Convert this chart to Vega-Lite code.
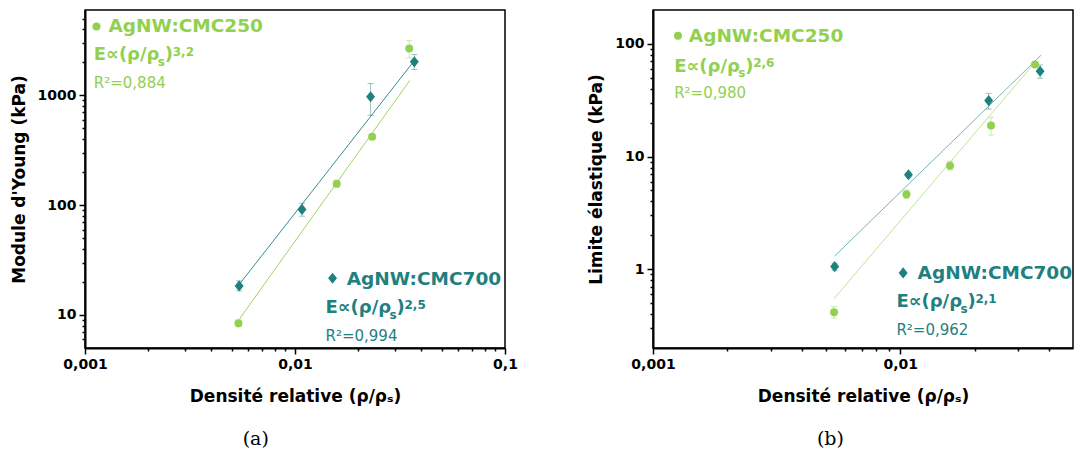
{
  "$schema": "https://vega.github.io/schema/vega-lite/v6.json",
  "background": "white",
  "padding": {"left": 9, "top": 9, "right": 0, "bottom": 0},
  "spacing": 68,
  "config": {
    "view": {"stroke": "black", "strokeWidth": 1.5},
    "axis": {"grid": false, "domainColor": "black", "domainWidth": 2, "tickColor": "black", "tickWidth": 1.5, "labelFont": "DejaVu Sans", "labelFontSize": 14, "labelFontWeight": "bold", "labelColor": "black", "labelPadding": 3, "titleFont": "DejaVu Sans", "titleFontSize": 17, "titleFontWeight": "bold", "titleColor": "black", "labelOverlap": false, "labelFlush": false},
    "axisX": {"titlePadding": 17},
    "axisY": {"titlePadding": 9},
    "text": {"font": "DejaVu Sans", "align": "left", "baseline": "alphabetic"},
    "title": {"font": "DejaVu Serif", "fontSize": 19, "fontWeight": "normal", "color": "black"}
  },
  "datasets": {
    "one": [{}],
    "pts": [
      {"panel": "a", "series": "CMC250", "x": 0.00538, "y": 8.4, "lo": 7.8, "hi": 9.0},
      {"panel": "a", "series": "CMC250", "x": 0.0158, "y": 157, "lo": 146, "hi": 169},
      {"panel": "a", "series": "CMC250", "x": 0.0233, "y": 421, "lo": 400, "hi": 443},
      {"panel": "a", "series": "CMC250", "x": 0.035, "y": 2675, "lo": 2200, "hi": 3160},
      {"panel": "a", "series": "CMC700", "x": 0.00542, "y": 18.4, "lo": 16.6, "hi": 20.4},
      {"panel": "a", "series": "CMC700", "x": 0.0108, "y": 91.5, "lo": 79.4, "hi": 104},
      {"panel": "a", "series": "CMC700", "x": 0.0229, "y": 972, "lo": 658, "hi": 1285},
      {"panel": "a", "series": "CMC700", "x": 0.037, "y": 2023, "lo": 1722, "hi": 2360},
      {"panel": "b", "series": "CMC250", "x": 0.0054, "y": 0.415, "lo": 0.369, "hi": 0.466},
      {"panel": "b", "series": "CMC250", "x": 0.0106, "y": 4.64, "lo": 4.25, "hi": 5.05},
      {"panel": "b", "series": "CMC250", "x": 0.0159, "y": 8.29, "lo": 7.6, "hi": 9.1},
      {"panel": "b", "series": "CMC250", "x": 0.0233, "y": 18.9, "lo": 15.5, "hi": 22.3},
      {"panel": "b", "series": "CMC250", "x": 0.0351, "y": 65.5, "lo": 62, "hi": 69},
      {"panel": "b", "series": "CMC700", "x": 0.00543, "y": 1.056, "lo": 0.98, "hi": 1.13},
      {"panel": "b", "series": "CMC700", "x": 0.0108, "y": 6.9, "lo": 6.6, "hi": 7.2},
      {"panel": "b", "series": "CMC700", "x": 0.0228, "y": 31.4, "lo": 26.4, "hi": 36.4},
      {"panel": "b", "series": "CMC700", "x": 0.0368, "y": 57.2, "lo": 49.5, "hi": 65}
    ],
    "fit": [
      {"panel": "a", "series": "CMC250", "x": 0.00544, "y": 9.2},
      {"panel": "a", "series": "CMC250", "x": 0.0352, "y": 1368},
      {"panel": "a", "series": "CMC700", "x": 0.00542, "y": 18.9},
      {"panel": "a", "series": "CMC700", "x": 0.0364, "y": 1995},
      {"panel": "b", "series": "CMC250", "x": 0.0054, "y": 0.548},
      {"panel": "b", "series": "CMC250", "x": 0.0351, "y": 68.5},
      {"panel": "b", "series": "CMC700", "x": 0.00543, "y": 1.31},
      {"panel": "b", "series": "CMC700", "x": 0.0372, "y": 79.7}
    ]
  },
  "hconcat": [
    {
      "width": 420, "height": 338,
      "title": {"text": "(a)", "orient": "bottom", "anchor": "middle", "frame": "bounds", "offset": 26, "dx": -8},
      "layer": [
        {
          "data": {"name": "fit"},
          "transform": [{"filter": "datum.panel == 'a'"}],
          "mark": {"type": "line", "strokeWidth": 1, "opacity": 0.9},
          "encoding": {
            "x": {"field": "x", "type": "quantitative", "scale": {"type": "log", "domain": [0.001, 0.1], "nice": false},
              "axis": {"title": "Densité relative (ρ/ρₛ)", "values": [0.001, 0.002, 0.003, 0.004, 0.005, 0.006, 0.007, 0.008, 0.009, 0.01, 0.02, 0.03, 0.04, 0.05, 0.06, 0.07, 0.08, 0.09, 0.1],
                "labelExpr": "abs(log(datum.value)/LN10 - round(log(datum.value)/LN10)) < 0.001 ? replace('' + datum.value, '.', ',') : ''",
                "tickSize": {"condition": {"test": "abs(log(datum.value)/LN10 - round(log(datum.value)/LN10)) < 0.001", "value": 6}, "value": 3}}},
            "y": {"field": "y", "type": "quantitative", "scale": {"type": "log", "domain": [5, 6000], "nice": false},
              "axis": {"title": "Module d'Young (kPa)", "values": [6, 7, 8, 9, 10, 20, 30, 40, 50, 60, 70, 80, 90, 100, 200, 300, 400, 500, 600, 700, 800, 900, 1000, 2000, 3000, 4000, 5000],
                "labelExpr": "abs(log(datum.value)/LN10 - round(log(datum.value)/LN10)) < 0.001 ? replace('' + datum.value, '.', ',') : ''",
                "tickSize": {"condition": {"test": "abs(log(datum.value)/LN10 - round(log(datum.value)/LN10)) < 0.001", "value": 6}, "value": 3}}},
            "color": {"field": "series", "type": "nominal", "scale": {"domain": ["CMC250", "CMC700"], "range": ["#92D050", "#1F8080"]}, "legend": null}
          }
        },
        {
          "data": {"name": "pts"},
          "transform": [{"filter": "datum.panel == 'a'"}],
          "mark": {"type": "rule", "strokeWidth": 1, "opacity": 0.45},
          "encoding": {
            "x": {"field": "x", "type": "quantitative"},
            "y": {"field": "lo", "type": "quantitative"},
            "y2": {"field": "hi"},
            "color": {"field": "series", "type": "nominal", "legend": null}
          }
        },
        {
          "data": {"name": "pts"},
          "transform": [{"filter": "datum.panel == 'a'"}],
          "mark": {"type": "tick", "orient": "horizontal", "size": 6, "thickness": 1, "opacity": 0.45},
          "encoding": {
            "x": {"field": "x", "type": "quantitative"},
            "y": {"field": "lo", "type": "quantitative"},
            "color": {"field": "series", "type": "nominal", "legend": null}
          }
        },
        {
          "data": {"name": "pts"},
          "transform": [{"filter": "datum.panel == 'a'"}],
          "mark": {"type": "tick", "orient": "horizontal", "size": 6, "thickness": 1, "opacity": 0.45},
          "encoding": {
            "x": {"field": "x", "type": "quantitative"},
            "y": {"field": "hi", "type": "quantitative"},
            "color": {"field": "series", "type": "nominal", "legend": null}
          }
        },
        {
          "data": {"name": "pts"},
          "transform": [{"filter": "datum.panel == 'a' && datum.series == 'CMC250'"}],
          "mark": {"type": "point", "shape": "circle", "filled": true, "opacity": 1, "size": 64},
          "encoding": {
            "x": {"field": "x", "type": "quantitative"},
            "y": {"field": "y", "type": "quantitative"},
            "color": {"field": "series", "type": "nominal", "legend": null}
          }
        },
        {
          "data": {"name": "pts"},
          "transform": [{"filter": "datum.panel == 'a' && datum.series == 'CMC700'"}],
          "mark": {"type": "point", "shape": "M-0.8,0L0,-1L0.8,0L0,1Z", "filled": true, "opacity": 1, "size": 125},
          "encoding": {
            "x": {"field": "x", "type": "quantitative"},
            "y": {"field": "y", "type": "quantitative"},
            "color": {"field": "series", "type": "nominal", "legend": null}
          }
        },
        {"data": {"name": "one"}, "mark": {"type": "point", "shape": "circle", "filled": true, "opacity": 1, "size": 64, "color": "#92D050"},
         "encoding": {"x": {"datum": 0.001134, "type": "quantitative"}, "y": {"datum": 4255, "type": "quantitative"}}},
        {"data": {"name": "one"}, "mark": {"type": "text", "text": "AgNW:CMC250", "fontSize": 18.5, "fontWeight": "bold", "color": "#92D050"},
         "encoding": {"x": {"datum": 0.001294, "type": "quantitative"}, "y": {"datum": 3750, "type": "quantitative"}}},
        {"data": {"name": "one"}, "mark": {"type": "text", "text": "E∝(ρ/ρ", "fontSize": 18, "fontWeight": "bold", "color": "#92D050"},
         "encoding": {"x": {"datum": 0.001101, "type": "quantitative"}, "y": {"datum": 2102, "type": "quantitative"}}},
        {"data": {"name": "one"}, "mark": {"type": "text", "text": "s", "fontSize": 12, "fontWeight": "bold", "color": "#92D050", "dx": 64, "dy": 5.5},
         "encoding": {"x": {"datum": 0.001101, "type": "quantitative"}, "y": {"datum": 2102, "type": "quantitative"}}},
        {"data": {"name": "one"}, "mark": {"type": "text", "text": ")", "fontSize": 18, "fontWeight": "bold", "color": "#92D050", "dx": 71},
         "encoding": {"x": {"datum": 0.001101, "type": "quantitative"}, "y": {"datum": 2102, "type": "quantitative"}}},
        {"data": {"name": "one"}, "mark": {"type": "text", "text": "3,2", "fontSize": 12, "fontWeight": "bold", "color": "#92D050", "dx": 79, "dy": -4.5},
         "encoding": {"x": {"datum": 0.001101, "type": "quantitative"}, "y": {"datum": 2102, "type": "quantitative"}}},
        {"data": {"name": "one"}, "mark": {"type": "text", "text": "R²=0,884", "fontSize": 15, "color": "#92D050"},
         "encoding": {"x": {"datum": 0.001101, "type": "quantitative"}, "y": {"datum": 1168, "type": "quantitative"}}},
        {"data": {"name": "one"}, "mark": {"type": "point", "shape": "M-0.8,0L0,-1L0.8,0L0,1Z", "filled": true, "opacity": 1, "size": 125, "color": "#1F8080"},
         "encoding": {"x": {"datum": 0.01509, "type": "quantitative"}, "y": {"datum": 21.6, "type": "quantitative"}}},
        {"data": {"name": "one"}, "mark": {"type": "text", "text": "AgNW:CMC700", "fontSize": 18.5, "fontWeight": "bold", "color": "#1F8080"},
         "encoding": {"x": {"datum": 0.01763, "type": "quantitative"}, "y": {"datum": 18.8, "type": "quantitative"}}},
        {"data": {"name": "one"}, "mark": {"type": "text", "text": "E∝(ρ/ρ", "fontSize": 18, "fontWeight": "bold", "color": "#1F8080"},
         "encoding": {"x": {"datum": 0.01397, "type": "quantitative"}, "y": {"datum": 10.4, "type": "quantitative"}}},
        {"data": {"name": "one"}, "mark": {"type": "text", "text": "s", "fontSize": 12, "fontWeight": "bold", "color": "#1F8080", "dx": 64, "dy": 5.5},
         "encoding": {"x": {"datum": 0.01397, "type": "quantitative"}, "y": {"datum": 10.4, "type": "quantitative"}}},
        {"data": {"name": "one"}, "mark": {"type": "text", "text": ")", "fontSize": 18, "fontWeight": "bold", "color": "#1F8080", "dx": 71},
         "encoding": {"x": {"datum": 0.01397, "type": "quantitative"}, "y": {"datum": 10.4, "type": "quantitative"}}},
        {"data": {"name": "one"}, "mark": {"type": "text", "text": "2,5", "fontSize": 12, "fontWeight": "bold", "color": "#1F8080", "dx": 79, "dy": -4.5},
         "encoding": {"x": {"datum": 0.01397, "type": "quantitative"}, "y": {"datum": 10.4, "type": "quantitative"}}},
        {"data": {"name": "one"}, "mark": {"type": "text", "text": "R²=0,994", "fontSize": 15, "color": "#1F8080"},
         "encoding": {"x": {"datum": 0.01397, "type": "quantitative"}, "y": {"datum": 5.83, "type": "quantitative"}}}
      ]
    },
    {
      "width": 420, "height": 338,
      "title": {"text": "(b)", "orient": "bottom", "anchor": "middle", "frame": "bounds", "offset": 26},
      "layer": [
        {
          "data": {"name": "fit"},
          "transform": [{"filter": "datum.panel == 'b'"}],
          "mark": {"type": "line", "strokeWidth": 1, "opacity": 0.6},
          "encoding": {
            "x": {"field": "x", "type": "quantitative", "scale": {"type": "log", "domain": [0.001, 0.05], "nice": false},
              "axis": {"title": "Densité relative (ρ/ρₛ)", "values": [0.001, 0.002, 0.003, 0.004, 0.005, 0.006, 0.007, 0.008, 0.009, 0.01, 0.02, 0.03, 0.04],
                "labelExpr": "abs(log(datum.value)/LN10 - round(log(datum.value)/LN10)) < 0.001 ? replace('' + datum.value, '.', ',') : ''",
                "tickSize": {"condition": {"test": "abs(log(datum.value)/LN10 - round(log(datum.value)/LN10)) < 0.001", "value": 6}, "value": 3}}},
            "y": {"field": "y", "type": "quantitative", "scale": {"type": "log", "domain": [0.2, 200], "nice": false},
              "axis": {"title": "Limite élastique (kPa)", "values": [0.3, 0.4, 0.5, 0.6, 0.7, 0.8, 0.9, 1, 2, 3, 4, 5, 6, 7, 8, 9, 10, 20, 30, 40, 50, 60, 70, 80, 90, 100],
                "labelExpr": "abs(log(datum.value)/LN10 - round(log(datum.value)/LN10)) < 0.001 ? replace('' + datum.value, '.', ',') : ''",
                "tickSize": {"condition": {"test": "abs(log(datum.value)/LN10 - round(log(datum.value)/LN10)) < 0.001", "value": 6}, "value": 3}}},
            "color": {"field": "series", "type": "nominal", "scale": {"domain": ["CMC250", "CMC700"], "range": ["#92D050", "#1F8080"]}, "legend": null}
          }
        },
        {
          "data": {"name": "pts"},
          "transform": [{"filter": "datum.panel == 'b'"}],
          "mark": {"type": "rule", "strokeWidth": 1, "opacity": 0.45},
          "encoding": {
            "x": {"field": "x", "type": "quantitative"},
            "y": {"field": "lo", "type": "quantitative"},
            "y2": {"field": "hi"},
            "color": {"field": "series", "type": "nominal", "legend": null}
          }
        },
        {
          "data": {"name": "pts"},
          "transform": [{"filter": "datum.panel == 'b'"}],
          "mark": {"type": "tick", "orient": "horizontal", "size": 6, "thickness": 1, "opacity": 0.45},
          "encoding": {
            "x": {"field": "x", "type": "quantitative"},
            "y": {"field": "lo", "type": "quantitative"},
            "color": {"field": "series", "type": "nominal", "legend": null}
          }
        },
        {
          "data": {"name": "pts"},
          "transform": [{"filter": "datum.panel == 'b'"}],
          "mark": {"type": "tick", "orient": "horizontal", "size": 6, "thickness": 1, "opacity": 0.45},
          "encoding": {
            "x": {"field": "x", "type": "quantitative"},
            "y": {"field": "hi", "type": "quantitative"},
            "color": {"field": "series", "type": "nominal", "legend": null}
          }
        },
        {
          "data": {"name": "pts"},
          "transform": [{"filter": "datum.panel == 'b' && datum.series == 'CMC250'"}],
          "mark": {"type": "point", "shape": "circle", "filled": true, "opacity": 1, "size": 64},
          "encoding": {
            "x": {"field": "x", "type": "quantitative"},
            "y": {"field": "y", "type": "quantitative"},
            "color": {"field": "series", "type": "nominal", "legend": null}
          }
        },
        {
          "data": {"name": "pts"},
          "transform": [{"filter": "datum.panel == 'b' && datum.series == 'CMC700'"}],
          "mark": {"type": "point", "shape": "M-0.8,0L0,-1L0.8,0L0,1Z", "filled": true, "opacity": 1, "size": 125},
          "encoding": {
            "x": {"field": "x", "type": "quantitative"},
            "y": {"field": "y", "type": "quantitative"},
            "color": {"field": "series", "type": "nominal", "legend": null}
          }
        },
        {"data": {"name": "one"}, "mark": {"type": "point", "shape": "circle", "filled": true, "opacity": 1, "size": 64, "color": "#92D050"},
         "encoding": {"x": {"datum": 0.001262, "type": "quantitative"}, "y": {"datum": 118, "type": "quantitative"}}},
        {"data": {"name": "one"}, "mark": {"type": "text", "text": "AgNW:CMC250", "fontSize": 18.5, "fontWeight": "bold", "color": "#92D050"},
         "encoding": {"x": {"datum": 0.001396, "type": "quantitative"}, "y": {"datum": 105, "type": "quantitative"}}},
        {"data": {"name": "one"}, "mark": {"type": "text", "text": "E∝(ρ/ρ", "fontSize": 18, "fontWeight": "bold", "color": "#92D050"},
         "encoding": {"x": {"datum": 0.001218, "type": "quantitative"}, "y": {"datum": 56.9, "type": "quantitative"}}},
        {"data": {"name": "one"}, "mark": {"type": "text", "text": "s", "fontSize": 12, "fontWeight": "bold", "color": "#92D050", "dx": 64, "dy": 5.5},
         "encoding": {"x": {"datum": 0.001218, "type": "quantitative"}, "y": {"datum": 56.9, "type": "quantitative"}}},
        {"data": {"name": "one"}, "mark": {"type": "text", "text": ")", "fontSize": 18, "fontWeight": "bold", "color": "#92D050", "dx": 71},
         "encoding": {"x": {"datum": 0.001218, "type": "quantitative"}, "y": {"datum": 56.9, "type": "quantitative"}}},
        {"data": {"name": "one"}, "mark": {"type": "text", "text": "2,6", "fontSize": 12, "fontWeight": "bold", "color": "#92D050", "dx": 79, "dy": -4.5},
         "encoding": {"x": {"datum": 0.001218, "type": "quantitative"}, "y": {"datum": 56.9, "type": "quantitative"}}},
        {"data": {"name": "one"}, "mark": {"type": "text", "text": "R²=0,980", "fontSize": 15, "color": "#92D050"},
         "encoding": {"x": {"datum": 0.001218, "type": "quantitative"}, "y": {"datum": 33.4, "type": "quantitative"}}},
        {"data": {"name": "one"}, "mark": {"type": "point", "shape": "M-0.8,0L0,-1L0.8,0L0,1Z", "filled": true, "opacity": 1, "size": 125, "color": "#1F8080"},
         "encoding": {"x": {"datum": 0.01028, "type": "quantitative"}, "y": {"datum": 0.928, "type": "quantitative"}}},
        {"data": {"name": "one"}, "mark": {"type": "text", "text": "AgNW:CMC700", "fontSize": 18.5, "fontWeight": "bold", "color": "#1F8080"},
         "encoding": {"x": {"datum": 0.01176, "type": "quantitative"}, "y": {"datum": 0.821, "type": "quantitative"}}},
        {"data": {"name": "one"}, "mark": {"type": "text", "text": "E∝(ρ/ρ", "fontSize": 18, "fontWeight": "bold", "color": "#1F8080"},
         "encoding": {"x": {"datum": 0.00965, "type": "quantitative"}, "y": {"datum": 0.459, "type": "quantitative"}}},
        {"data": {"name": "one"}, "mark": {"type": "text", "text": "s", "fontSize": 12, "fontWeight": "bold", "color": "#1F8080", "dx": 64, "dy": 5.5},
         "encoding": {"x": {"datum": 0.00965, "type": "quantitative"}, "y": {"datum": 0.459, "type": "quantitative"}}},
        {"data": {"name": "one"}, "mark": {"type": "text", "text": ")", "fontSize": 18, "fontWeight": "bold", "color": "#1F8080", "dx": 71},
         "encoding": {"x": {"datum": 0.00965, "type": "quantitative"}, "y": {"datum": 0.459, "type": "quantitative"}}},
        {"data": {"name": "one"}, "mark": {"type": "text", "text": "2,1", "fontSize": 12, "fontWeight": "bold", "color": "#1F8080", "dx": 79, "dy": -4.5},
         "encoding": {"x": {"datum": 0.00965, "type": "quantitative"}, "y": {"datum": 0.459, "type": "quantitative"}}},
        {"data": {"name": "one"}, "mark": {"type": "text", "text": "R²=0,962", "fontSize": 15, "color": "#1F8080"},
         "encoding": {"x": {"datum": 0.00965, "type": "quantitative"}, "y": {"datum": 0.262, "type": "quantitative"}}}
      ]
    }
  ]
}
